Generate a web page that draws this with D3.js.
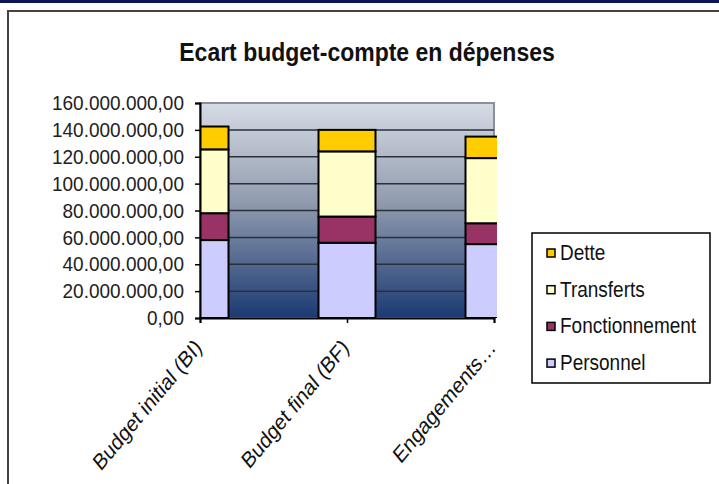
<!DOCTYPE html>
<html>
<head>
<meta charset="utf-8">
<script src="https://cdn.jsdelivr.net/npm/d3@7"></script>
<style>
  body { margin: 0; background: #fff; }
  svg { display: block; font-family: "Liberation Sans", Arial, sans-serif; }
</style>
</head>
<body>
<div id="chart"></div>
<script>
// categories and series (values in euros)
var categories = ["Budget initial (BI)", "Budget final (BF)", "Engagements..."];
var seriesNames = ["Personnel", "Fonctionnement", "Transferts", "Dette"];
var personnel = [58000000, 56000000, 55000000];
var fonctionnement = [20000000, 19500000, 15500000];
var transferts = [47500000, 48500000, 48500000];
var dette = [17000000, 16000000, 16000000];
var yTicks = [0, 20000000, 40000000, 60000000, 80000000, 100000000, 120000000, 140000000, 160000000];
var colors = {Personnel: "#ccccff", Fonctionnement: "#993366", Transferts: "#ffffcc", Dette: "#ffcc00"};

var W = 719, H = 484;
var svg = d3.select("#chart").append("svg").attr("width", W).attr("height", H);

// page decoration: top strip and chart frame
svg.append("rect").attr("x", 0).attr("y", 0).attr("width", W).attr("height", 3).attr("fill", "#0b1455");
svg.append("rect").attr("x", 8).attr("y", 11).attr("width", W + 20).attr("height", H + 20)
    .attr("fill", "none").attr("stroke", "#444").attr("stroke-width", 2);

// text in the picture is a little stretched vertically
svg.append("text")
    .attr("transform", "translate(367,61) scale(1,1.15)")
    .attr("text-anchor", "middle")
    .attr("font-size", 23).attr("font-weight", "bold")
    .attr("fill", "#111")
    .text("Ecart budget-compte en dépenses");

var plot = {left: 200, right: 494, top: 103, bottom: 318};

var y = d3.scaleLinear().domain([0, 160000000]).range([plot.bottom, plot.top]);
var x = d3.scalePoint().domain(categories).range([plot.left, plot.right]);
var barW = 57;

var rows = categories.map(function (c, i) {
    return {cat: c, Personnel: personnel[i], Fonctionnement: fonctionnement[i], Transferts: transferts[i], Dette: dette[i]};
});
var stacked = d3.stack().keys(seriesNames)(rows);

var defs = svg.append("defs");
var grad = defs.append("linearGradient").attr("id", "bg").attr("x1", 0).attr("y1", 0).attr("x2", 0).attr("y2", 1);
grad.append("stop").attr("offset", "0%").attr("stop-color", "#d6dce6");
grad.append("stop").attr("offset", "45%").attr("stop-color", "#939db0");
grad.append("stop").attr("offset", "100%").attr("stop-color", "#1b3a72");

defs.append("clipPath").attr("id", "clip").append("rect")
    .attr("x", plot.left).attr("y", plot.top - 5).attr("width", 297).attr("height", plot.bottom - plot.top + 5);

svg.append("rect")
    .attr("x", plot.left).attr("y", plot.top)
    .attr("width", plot.right - plot.left).attr("height", plot.bottom - plot.top)
    .attr("fill", "url(#bg)").attr("stroke", "#8a8f99").attr("stroke-width", 2);

svg.append("g").selectAll("line")
    .data(yTicks.slice(1, -1))
    .enter().append("line")
    .attr("x1", plot.left).attr("x2", plot.right)
    .attr("y1", function (d) { return y(d); }).attr("y2", function (d) { return y(d); })
    .attr("stroke", "#2a2f3a").attr("stroke-width", 1.5);

var bars = svg.append("g").attr("clip-path", "url(#clip)");
bars.selectAll("g")
    .data(stacked)
    .enter().append("g")
    .attr("fill", function (d) { return colors[d.key]; })
    .selectAll("rect")
    .data(function (d) { return d; })
    .enter().append("rect")
    .attr("x", function (d) { return x(d.data.cat) - barW / 2; })
    .attr("y", function (d) { return y(d[1]); })
    .attr("width", barW)
    .attr("height", function (d) { return y(d[0]) - y(d[1]); })
    .attr("stroke", "#000").attr("stroke-width", 2);

// y axis
var yAxis = svg.append("g")
    .attr("transform", "translate(" + plot.left + ",0)")
    .call(d3.axisLeft(y).tickValues(yTicks).tickSize(5).tickPadding(12)
        .tickFormat(function (d) {
            return d === 0 ? "0,00" : d3.format(",")(d).replace(/,/g, ".") + ",00";
        }));
yAxis.select(".domain").attr("stroke", "#000").attr("stroke-width", 2);
yAxis.selectAll(".tick line").attr("stroke", "#000").attr("stroke-width", 1.5);
yAxis.selectAll(".tick text")
    .attr("x", 0)
    .attr("transform", "translate(-16,0) scale(1,1.1)")
    .attr("font-size", 19).attr("fill", "#222")
    .attr("font-family", "Liberation Sans, Arial, sans-serif");

// x axis
var xAxis = svg.append("g")
    .attr("transform", "translate(0," + plot.bottom + ")")
    .call(d3.axisBottom(x).tickSize(5).tickFormat(""));
xAxis.select(".domain").attr("stroke", "#000").attr("stroke-width", 2);
xAxis.selectAll(".tick line").attr("stroke", "#000").attr("stroke-width", 1.5);

svg.append("g").selectAll("text")
    .data(categories)
    .enter().append("text")
    .attr("transform", function (d) {
        return "translate(" + (x(d) + 3) + "," + (plot.bottom + 31) + ") scale(1,1.2) rotate(-45)";
    })
    .attr("text-anchor", "end")
    .attr("font-size", 19).attr("fill", "#111")
    .text(function (d) { return d === "Engagements..." ? "Engagements\u2026" : d; });

// legend
var legend = svg.append("g");
legend.append("rect")
    .attr("x", 532).attr("y", 233).attr("width", 178).attr("height", 150)
    .attr("fill", "#fff").attr("stroke", "#000").attr("stroke-width", 1.5);

var legendItems = seriesNames.slice().reverse();
var li = legend.selectAll(".li")
    .data(legendItems)
    .enter().append("g")
    .attr("class", "li")
    .attr("transform", function (d, i) { return "translate(547," + (260 + i * 36.7) + ")"; });
li.append("rect")
    .attr("x", 0).attr("y", -11).attr("width", 8).attr("height", 8)
    .attr("fill", function (d) { return colors[d]; })
    .attr("stroke", "#000").attr("stroke-width", 1.5);
li.append("text")
    .attr("transform", "translate(13,0) scale(1,1.2)")
    .attr("font-size", 19).attr("fill", "#111")
    .text(function (d) { return d; });
</script>
</body>
</html>
